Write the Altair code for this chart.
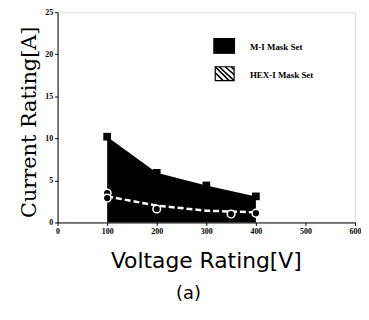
import altair as alt
import pandas as pd

# data
m1_volt = [100, 200, 300, 400]
m1_curr = [10.2, 5.9, 4.4, 3.1]
hex_line_volt = [100, 200, 300, 400]
hex_line_curr = [3.1, 2.0, 1.4, 1.2]
hex_pt_volt = [100, 100, 200, 350, 400]
hex_pt_curr = [3.5, 2.9, 1.6, 1.0, 1.1]
x_ticks = [0, 100, 200, 300, 400, 500, 600]
y_ticks = [0, 5, 10, 15, 20, 25]
series_names = ["M-I Mask Set", "HEX-I Mask Set"]

W, H = 300, 212
m1 = pd.DataFrame({"v": m1_volt, "c": m1_curr})
hl = pd.DataFrame({"v": hex_line_volt, "c": hex_line_curr})
hp = pd.DataFrame({"v": hex_pt_volt, "c": hex_pt_curr})

tick_font = "Liberation Serif"
xs = alt.Scale(domain=[0, 600], nice=False)
ys = alt.Scale(domain=[0, 25], nice=False)
xax = alt.Axis(values=x_ticks, title=None, grid=False, labelFont=tick_font, labelFontWeight="bold",
               labelFontSize=8, labelColor="black", domainColor="black", tickColor="black",
               tickSize=3, labelPadding=2, labelFlush=False)
yax = alt.Axis(values=y_ticks, title=None, grid=False, labelFont=tick_font, labelFontWeight="bold",
               labelFontSize=8, labelColor="black", domainColor="black", tickColor="black",
               tickSize=3, labelPadding=2)

area = alt.Chart(m1).mark_area(color="black", opacity=1).encode(
    x=alt.X("v:Q", scale=xs, axis=xax), y=alt.Y("c:Q", scale=ys, axis=yax))
m1pts = alt.Chart(m1).mark_square(color="black", size=60, opacity=1).encode(
    x=alt.X("v:Q", scale=xs), y=alt.Y("c:Q", scale=ys))
hexline = alt.Chart(hl).mark_line(color="white", strokeDash=[6, 3], strokeWidth=2.5).encode(
    x=alt.X("v:Q", scale=xs), y=alt.Y("c:Q", scale=ys))
hexpts = alt.Chart(hp).mark_point(shape="circle", fill="black", stroke="white", filled=False,
                                  strokeWidth=1.5, size=60, opacity=1).encode(
    x=alt.X("v:Q", scale=xs), y=alt.Y("c:Q", scale=ys))

# legend
leg_black = alt.Chart(pd.DataFrame({"a": [0]})).mark_rect(color="black").encode(
    x=alt.value(157), x2=alt.value(179), y=alt.value(26), y2=alt.value(42))
leg_box = alt.Chart(pd.DataFrame({"a": [0]})).mark_rect(fill="white", stroke="black", strokeWidth=1.2).encode(
    x=alt.value(159), x2=alt.value(178), y=alt.value(55), y2=alt.value(69))
hatch = pd.DataFrame({
    "x1": [159, 159, 163, 169, 175],
    "y1": [61, 55, 55, 55, 55],
    "x2": [167, 173, 178, 178, 178],
    "y2": [69, 69, 69, 63, 58],
})
hatch_lines = alt.Chart(hatch).mark_rule(color="black", strokeWidth=1.6).encode(
    x=alt.X("x1:Q", scale=None), x2="x2:Q", y=alt.Y("y1:Q", scale=None), y2="y2:Q")
leg_text = alt.Chart(pd.DataFrame({"t": series_names, "y": [35, 63]})).mark_text(
    align="left", baseline="middle", font=tick_font, fontWeight="bold", fontSize=9, color="black").encode(
    x=alt.value(194), y=alt.Y("y:Q", scale=None), text="t:N")

xtitle = alt.Chart(pd.DataFrame({"t": ["Voltage  Rating[V]"]})).mark_text(
    font="DejaVu Sans", fontSize=22, color="black", baseline="middle").encode(
    x=alt.value(150), y=alt.value(251), text="t:N")
ytitle = alt.Chart(pd.DataFrame({"t": ["Current  Rating[A]"]})).mark_text(
    font="DejaVu Serif", fontSize=21, color="black", baseline="middle", angle=270).encode(
    x=alt.value(-28), y=alt.value(111), text="t:N")
sub = alt.Chart(pd.DataFrame({"t": ["(a)"]})).mark_text(
    font="DejaVu Sans", fontSize=18, color="black", baseline="middle").encode(
    x=alt.value(132), y=alt.value(284), text="t:N")

chart = alt.layer(area, m1pts, hexline, hexpts, leg_black, leg_box, hatch_lines, leg_text,
                  xtitle, ytitle, sub).properties(
    width=W, height=H,
    autosize=alt.AutoSizeParams(type="none"),
    padding={"left": 50, "top": 3, "right": 6, "bottom": 84},
).configure_view(stroke="black", strokeWidth=1.2).configure(background="white")

chart.save("out.html", embed_options={"renderer": "svg", "actions": False})
